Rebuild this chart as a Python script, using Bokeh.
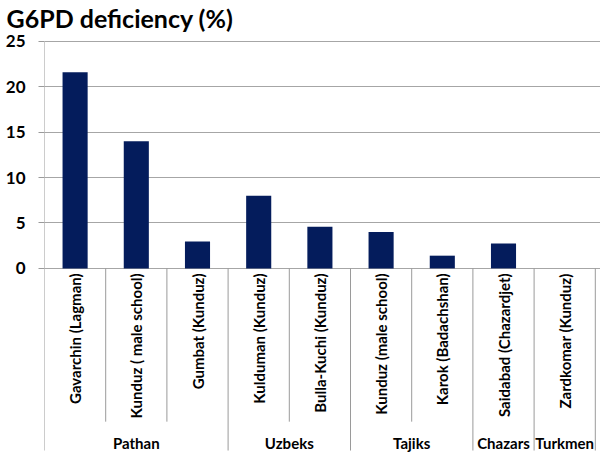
from bokeh.plotting import figure
from bokeh.models import Range1d, FixedTicker, ColumnDataSource
from bokeh.core.properties import value
from bokeh.embed import file_html
from bokeh.resources import INLINE
import math

# ---- data ----
categories = ["Gavarchin (Lagman)", "Kunduz ( male school)", "Gumbat (Kunduz)",
              "Kulduman (Kunduz)", "Bulla-Kuchi (Kunduz)",
              "Kunduz (male school)", "Karok (Badachshan)",
              "Saidabad (Chazardjet)", "Zardkomar (Kunduz)"]
groups = ["Pathan", "Pathan", "Pathan", "Uzbeks", "Uzbeks",
          "Tajiks", "Tajiks", "Chazars", "Turkmen"]
values = [21.6, 14.0, 2.95, 8.0, 4.6, 4.0, 1.4, 2.75, 0.0]
y_ticks = [0, 5, 10, 15, 20, 25]
title_text = "G6PD deficiency (%)"

# ---- layout constants ----
W, H = 600, 455
LEFT = 44
TITLE_H = 30         # height of the title panel (frame top)
TOP = 39             # where y=25 sits
ZERO_PX = 267        # where y=0 sits
PX_PER_UNIT = (ZERO_PX - TOP) / 25.0
CAT_W = 61.2
FONT = "Lato"
BAR_COLOR = "#041c5c"
GRID_COLOR = "#a6a6a6"
LINE_COLOR = "#9a9a9a"

def px_to_y(py):
    return -(py - ZERO_PX) / PX_PER_UNIT

y_bot = px_to_y(H)
y_top = px_to_y(TITLE_H)
x_end = (W - LEFT) / CAT_W

p = figure(width=W, height=H, output_backend="svg", toolbar_location=None,
           x_range=Range1d(0, x_end), y_range=Range1d(y_bot, y_top),
           min_border_left=LEFT, min_border_right=0, min_border_top=0,
           min_border_bottom=0, background_fill_color="white",
           border_fill_color="white", outline_line_color=None)
p.xaxis.visible = False
p.xgrid.visible = False

ticker = FixedTicker(ticks=y_ticks)
p.yaxis.ticker = ticker
p.ygrid.ticker = ticker
p.ygrid.grid_line_color = GRID_COLOR
p.ygrid.grid_line_width = 1
yax = p.yaxis[0]
yax.axis_line_color = None
yax.major_tick_in = 0
yax.major_tick_out = 6
yax.major_tick_line_color = LINE_COLOR
yax.minor_tick_line_color = None
yax.major_label_text_font = FONT
yax.major_label_text_font_style = "bold"
yax.major_label_text_font_size = "17px"
yax.major_label_text_color = "black"
yax.major_label_standoff = 13

# title
p.title.text = title_text
p.title.text_font = FONT
p.title.text_font_style = "bold"
p.title.text_font_size = "25px"
p.title.text_color = "black"
p.title.align = "left"
p.title.offset = -38
p.title.standoff = 0

# bars
xs = [i + 0.5 for i in range(len(categories))]
src = ColumnDataSource(dict(x=xs, top=values, cat=categories))
p.vbar(x="x", top="top", bottom=0, width=0.41, source=src,
       fill_color=BAR_COLOR, line_color=None)

# category labels
p.text(x="x", y=0, text="cat", source=src, angle=math.pi / 2,
       text_align="right", text_baseline="middle", y_offset=5,
       text_font=value(FONT), text_font_style="bold",
       text_font_size="15px", text_color="black")

# group spans
spans = []
for i, g in enumerate(groups):
    if spans and spans[-1][0] == g:
        spans[-1][2] = i + 1
    else:
        spans.append([g, i, i + 1])
group_bounds = sorted({s[1] for s in spans} | {s[2] for s in spans})
cat_bounds = [b for b in range(len(categories) + 1) if b not in group_bounds]

cat_sep_bottom = px_to_y(421)
group_sep_bottom = px_to_y(450)
group_label_y = px_to_y(442)

# y axis line
p.segment(x0=[0], y0=[25], x1=[0], y1=[0], line_color=LINE_COLOR, line_width=1)
# category separators
p.segment(x0=cat_bounds, y0=[0] * len(cat_bounds), x1=cat_bounds,
          y1=[cat_sep_bottom] * len(cat_bounds), line_color=LINE_COLOR, line_width=1)
# group separators
p.segment(x0=group_bounds, y0=[0] * len(group_bounds), x1=group_bounds,
          y1=[group_sep_bottom] * len(group_bounds), line_color=LINE_COLOR, line_width=1)

# group labels
gsrc = ColumnDataSource(dict(x=[(s[1] + s[2]) / 2 for s in spans],
                             name=[s[0] for s in spans]))
p.text(x="x", y=group_label_y, text="name", source=gsrc,
       text_align="center", text_baseline="middle",
       text_font=value(FONT), text_font_style="bold",
       text_font_size="15px", text_color="black")

open("out.html", "w").write(file_html(p, INLINE))
